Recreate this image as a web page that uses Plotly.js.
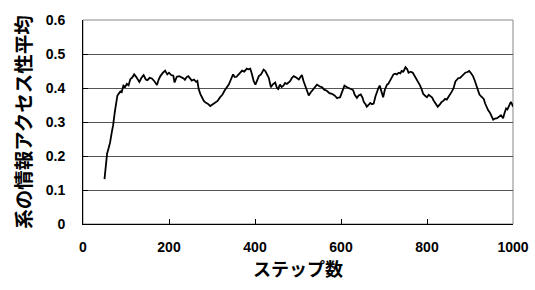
<!DOCTYPE html>
<html>
<head>
<meta charset="utf-8">
<script src="https://cdn.plot.ly/plotly-3.0.1.min.js"></script>
<style>html,body{margin:0;padding:0;background:#fff;}#chart{width:535px;height:290px;}</style>
</head>
<body>
<div id="chart"></div>
<script>
const steps = [
  50,53,56,60,63,67,70,74,78,80,
  84,87,90,94,98,102,106,110,114,119,
  124,128,131,136,141,146,150,155,160,166,
  172,176,180,186,191,196,200,205,210,213,
  218,224,230,234,237,241,245,249,253,258,
  263,266,269,273,277,281,285,290,296,302,
  308,313,319,324,329,334,339,344,349,353,
  357,362,366,370,375,381,385,389,392,394,
  397,401,405,409,414,420,424,428,432,437,
  441,447,451,454,458,462,466,470,474,478,
  482,486,490,494,498,502,506,509,513,517,
  521,525,529,533,538,544,550,556,561,567,
  573,579,585,591,595,598,603,608,613,618,
  623,628,632,637,641,646,650,653,657,660,
  664,668,672,676,680,684,687,690,694,698,
  702,707,710,714,718,722,726,730,734,738,
  741,745,750,754,757,762,767,772,777,780,
  784,788,791,795,800,804,808,812,815,820,
  825,830,834,838,842,846,850,854,858,862,
  866,870,873,877,881,885,889,894,898,902,
  907,911,914,918,922,926,932,935,938,942,
  946,950,954,958,963,967,972,975,977,980,
  984,987,990,993,995,998,1000
];
const accessAvg = [
  0.132,0.170,0.207,0.225,0.240,0.270,0.290,0.330,0.370,0.378,
  0.385,0.390,0.388,0.407,0.403,0.412,0.408,0.426,0.430,0.440,
  0.432,0.422,0.418,0.430,0.438,0.425,0.423,0.430,0.428,0.420,
  0.409,0.425,0.435,0.445,0.451,0.440,0.445,0.438,0.436,0.416,
  0.433,0.435,0.432,0.428,0.424,0.432,0.435,0.428,0.422,0.425,
  0.418,0.421,0.397,0.382,0.369,0.362,0.357,0.354,0.347,0.352,
  0.359,0.362,0.373,0.380,0.392,0.400,0.410,0.425,0.440,0.432,
  0.433,0.440,0.445,0.451,0.448,0.457,0.455,0.457,0.445,0.435,
  0.420,0.410,0.425,0.435,0.440,0.454,0.450,0.440,0.430,0.402,
  0.410,0.416,0.400,0.397,0.410,0.403,0.407,0.415,0.412,0.416,
  0.421,0.430,0.435,0.432,0.428,0.425,0.433,0.438,0.420,0.407,
  0.390,0.378,0.386,0.392,0.398,0.410,0.405,0.402,0.395,0.392,
  0.385,0.383,0.378,0.370,0.372,0.373,0.390,0.407,0.403,0.400,
  0.398,0.394,0.380,0.371,0.378,0.381,0.372,0.359,0.352,0.345,
  0.350,0.356,0.352,0.354,0.375,0.392,0.400,0.407,0.390,0.373,
  0.395,0.410,0.412,0.421,0.430,0.440,0.442,0.440,0.445,0.443,
  0.450,0.448,0.461,0.455,0.445,0.448,0.445,0.435,0.423,0.415,
  0.407,0.395,0.383,0.378,0.373,0.380,0.375,0.372,0.364,0.355,
  0.345,0.352,0.359,0.362,0.368,0.366,0.373,0.380,0.390,0.400,
  0.419,0.425,0.429,0.430,0.435,0.440,0.445,0.447,0.450,0.444,
  0.435,0.422,0.410,0.395,0.381,0.375,0.368,0.355,0.345,0.335,
  0.328,0.318,0.307,0.310,0.311,0.315,0.320,0.315,0.311,0.325,
  0.340,0.337,0.347,0.352,0.359,0.352,0.345
];
const xTicks = [0, 200, 400, 600, 800, 1000];
const yTicks = [0, 0.1, 0.2, 0.3, 0.4, 0.5, 0.6];
const yTickLabels = ['0', '0.1', '0.2', '0.3', '0.4', '0.5', '0.6'];
const xTitle = 'ステップ数';
const yTitle = '系の情報アクセス性平均';

const tickFont = {family: 'Liberation Sans, Arial, sans-serif', size: 14, color: '#000', weight: 'bold'};
const xTitleFont = {family: 'Noto Sans CJK JP, sans-serif', size: 18, color: '#000', weight: 'bold'};
const yTitleFont = {family: 'Noto Sans CJK JP, sans-serif', size: 19.5, color: '#000', weight: 'bold'};

const trace = {
  x: steps, y: accessAvg, type: 'scatter', mode: 'lines',
  line: {color: '#000', width: 1.8}, hoverinfo: 'skip'
};

const layout = {
  width: 535, height: 290,
  margin: {l: 83, r: 22, t: 14, b: 66, pad: 0},
  paper_bgcolor: '#fff', plot_bgcolor: '#fff',
  showlegend: false,
  xaxis: {
    range: [0, 1000], tickvals: xTicks, ticktext: xTicks.map(String),
    ticks: 'inside', ticklen: 5, tickcolor: '#000', tickwidth: 1,
    showline: true, linecolor: '#000', linewidth: 1,
    showgrid: false, zeroline: false,
    tickfont: tickFont, ticklabelstandoff: 10,
    title: {text: xTitle, font: xTitleFont, standoff: 8}
  },
  yaxis: {
    range: [0, 0.6], tickvals: yTicks, ticktext: yTickLabels,
    ticks: 'inside', ticklen: 5, tickcolor: '#000', tickwidth: 1,
    showline: true, linecolor: '#000', linewidth: 1,
    showgrid: true, gridcolor: '#555', gridwidth: 1,
    zeroline: false, automargin: true,
    tickfont: tickFont, ticklabelstandoff: 14,
    title: {text: yTitle, font: yTitleFont, standoff: 8}
  },
  shapes: [{
    type: 'rect', xref: 'paper', yref: 'paper', x0: 0, x1: 1, y0: 0, y1: 1,
    line: {color: '#888', width: 1}, layer: 'below'
  }]
};

Plotly.newPlot('chart', [trace], layout, {displayModeBar: false, staticPlot: true});
</script>
</body>
</html>
